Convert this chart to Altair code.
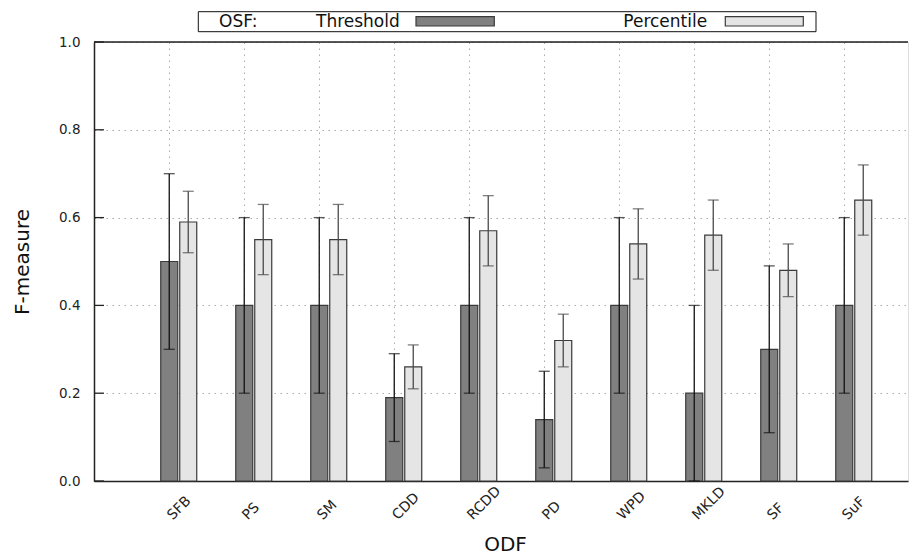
import altair as alt
import pandas as pd

categories = ["SFB", "PS", "SM", "CDD", "RCDD", "PD", "WPD", "MKLD", "SF", "SuF"]
series = ["Threshold", "Percentile"]
thr_val = [0.50, 0.40, 0.40, 0.19, 0.40, 0.14, 0.40, 0.20, 0.30, 0.40]
thr_lo = [0.30, 0.20, 0.20, 0.09, 0.20, 0.03, 0.20, 0.00, 0.11, 0.20]
thr_hi = [0.70, 0.60, 0.60, 0.29, 0.60, 0.25, 0.60, 0.40, 0.49, 0.60]
pct_val = [0.59, 0.55, 0.55, 0.26, 0.57, 0.32, 0.54, 0.56, 0.48, 0.64]
pct_lo = [0.52, 0.47, 0.47, 0.21, 0.49, 0.26, 0.46, 0.48, 0.42, 0.56]
pct_hi = [0.66, 0.63, 0.63, 0.31, 0.65, 0.38, 0.62, 0.64, 0.54, 0.72]
y_ticks = [0.0, 0.2, 0.4, 0.6, 0.8, 1.0]

rows = []
for i, c in enumerate(categories):
    rows.append({"cat": c, "series": "Threshold", "val": thr_val[i], "lo": thr_lo[i], "hi": thr_hi[i]})
    rows.append({"cat": c, "series": "Percentile", "val": pct_val[i], "lo": pct_lo[i], "hi": pct_hi[i]})
df = pd.DataFrame(rows)
ticks_df = pd.DataFrame({"v": y_ticks})
dummy = pd.DataFrame({"a": [0]})

W, H = 814, 439
FONT = "DejaVu Sans"
GRID_DASH = [1.5, 4.5]

x_scale = alt.Scale(domain=categories, paddingInner=0.2667, paddingOuter=0.56, align=0.6815)
xoff_scale = alt.Scale(domain=series, paddingInner=0.105, paddingOuter=0.5)
y_scale = alt.Scale(domain=[0, 1], nice=False)

x_axis = alt.Axis(
    title="ODF", bandPosition=0.327, grid=True, gridDash=GRID_DASH, gridColor="#aaaaaa",
    gridWidth=1, ticks=False, domain=True, domainColor="#222222", domainWidth=1.5,
    labelAngle=315, labelAlign="left", labelBaseline="alphabetic", labelPadding=39,
    labelOffset=-6, labelFontSize=14, labelFont=FONT, labelColor="#222222",
    titleFontSize=20, titleFont=FONT, titleFontWeight="normal", titleX=411, titleY=69,
    titleAlign="center", titleBaseline="alphabetic", titleColor="#111111",
)
y_axis = alt.Axis(
    title="F-measure", values=y_ticks, format=".1f", grid=True, gridDash=GRID_DASH,
    gridColor="#aaaaaa", gridWidth=1, ticks=False, domain=True, domainColor="#222222",
    domainWidth=1.5, labelPadding=14, labelFontSize=13.5, labelFont=FONT,
    labelColor="#222222", titleFontSize=20, titleFont=FONT, titleFontWeight="normal",
    titleX=-66, titleY=219.5, titleAlign="center", titleBaseline="alphabetic",
    titleAngle=270, titleColor="#111111",
)

X = alt.X("cat:N", scale=x_scale, axis=x_axis, sort=None)
XO = alt.XOffset("series:N", scale=xoff_scale, sort=None)

bars = alt.Chart(df).mark_bar(stroke="#3a3a3a", strokeWidth=1.2).encode(
    x=X, xOffset=XO,
    y=alt.Y("val:Q", scale=y_scale, axis=y_axis),
    fill=alt.Fill("series:N", scale=alt.Scale(domain=series, range=["#808080", "#e5e5e5"]), legend=None),
)

err = alt.Chart(df).mark_rule(strokeWidth=1.3).encode(
    x=X, xOffset=XO,
    y=alt.Y("lo:Q", scale=y_scale, axis=y_axis), y2="hi:Q",
    stroke=alt.Stroke("series:N", scale=alt.Scale(domain=series, range=["#111111", "#4a4a4a"]), legend=None),
)
cap_color = alt.Color("series:N", scale=alt.Scale(domain=series, range=["#111111", "#4a4a4a"]), legend=None)
cap_lo = alt.Chart(df).mark_tick(orient="horizontal", size=11, thickness=1.3).encode(
    x=X, xOffset=XO, y=alt.Y("lo:Q", scale=y_scale, axis=y_axis), color=cap_color)
cap_hi = alt.Chart(df).mark_tick(orient="horizontal", size=11, thickness=1.3).encode(
    x=X, xOffset=XO, y=alt.Y("hi:Q", scale=y_scale, axis=y_axis), color=cap_color)

yticks = alt.Chart(ticks_df).mark_rule(color="#222222", strokeWidth=1.3).encode(
    y=alt.Y("v:Q", scale=y_scale, axis=y_axis), x=alt.value(0), x2=alt.value(10))

top_border = alt.Chart(dummy).mark_rule(color="#222222", strokeWidth=1.5).encode(
    x=alt.value(0), x2=alt.value(W), y=alt.value(0))

# key box
key_box = alt.Chart(dummy).mark_rect(fill="white", stroke="#111111", strokeWidth=1).encode(
    x=alt.value(104.3), x2=alt.value(722), y=alt.value(-30.3), y2=alt.value(-10.3))
key_title = alt.Chart(dummy).mark_text(align="left", baseline="alphabetic", font=FONT, fontSize=17, color="#111111").encode(
    x=alt.value(125), y=alt.value(-14.7), text=alt.value("OSF:"))
key_t1 = alt.Chart(dummy).mark_text(align="left", baseline="alphabetic", font=FONT, fontSize=17, color="#111111").encode(
    x=alt.value(222), y=alt.value(-14.7), text=alt.value(series[0]))
key_s1 = alt.Chart(dummy).mark_rect(fill="#808080", stroke="#3a3a3a", strokeWidth=1.2).encode(
    x=alt.value(322), x2=alt.value(400.3), y=alt.value(-25.3), y2=alt.value(-16))
key_t2 = alt.Chart(dummy).mark_text(align="left", baseline="alphabetic", font=FONT, fontSize=17, color="#111111").encode(
    x=alt.value(529.3), y=alt.value(-14.7), text=alt.value(series[1]))
key_s2 = alt.Chart(dummy).mark_rect(fill="#e5e5e5", stroke="#3a3a3a", strokeWidth=1.2).encode(
    x=alt.value(631.3), x2=alt.value(709.3), y=alt.value(-25.3), y2=alt.value(-16))

chart = alt.layer(
    bars, err, cap_lo, cap_hi, yticks, top_border,
    key_box, key_title, key_t1, key_s1, key_t2, key_s2,
).properties(
    width=W, height=H,
    autosize=alt.AutoSizeParams(type="none"),
    padding={"left": 94, "top": 42, "right": 2, "bottom": 74},
    background="white",
).configure_view(stroke=None).configure(font=FONT)

chart.save("out.html", embed_options={"renderer": "svg", "actions": False})
